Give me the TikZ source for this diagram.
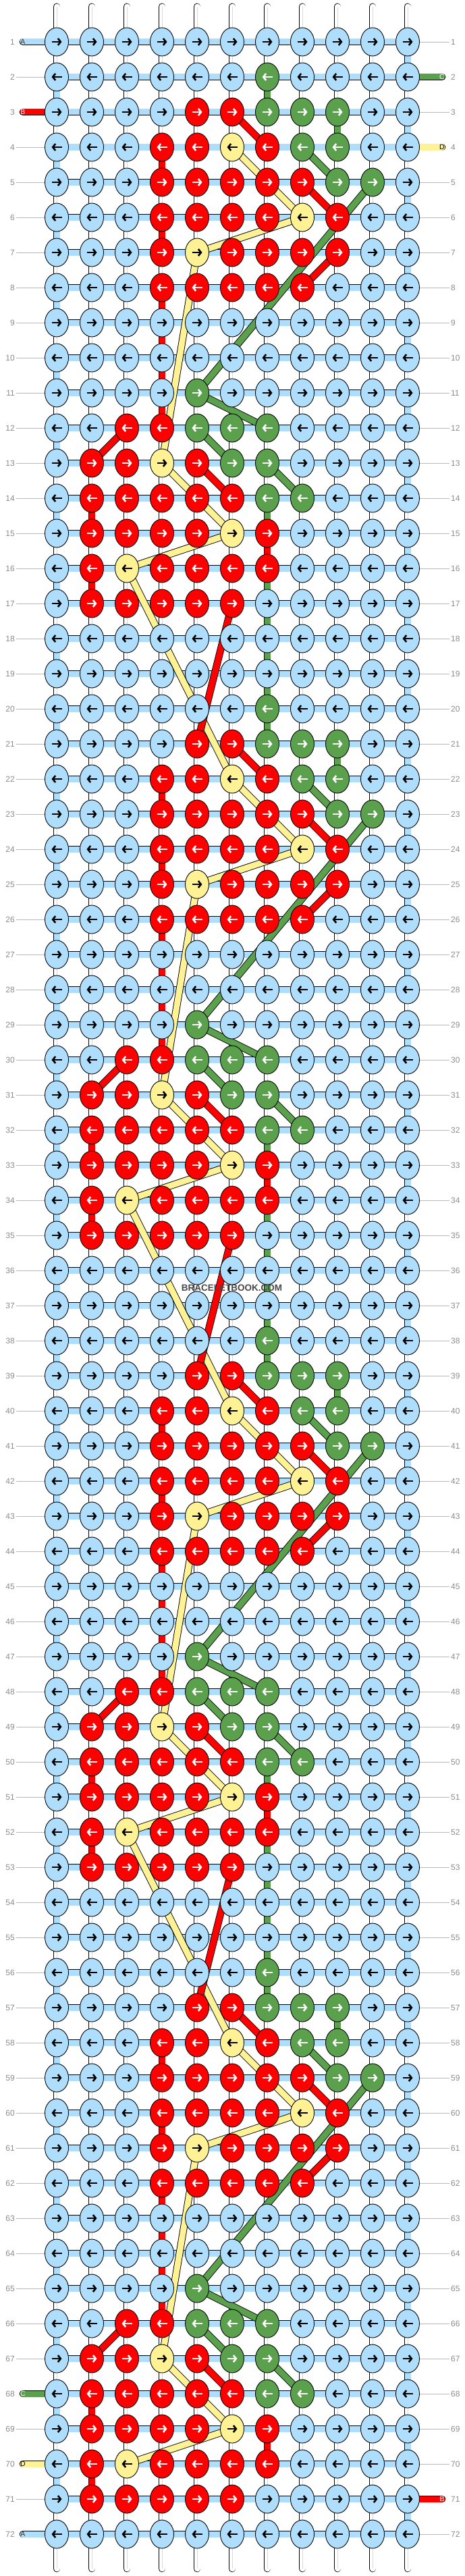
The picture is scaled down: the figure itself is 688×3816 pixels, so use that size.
\documentclass[tikz,border=0pt]{standalone}
\usepackage{fontspec}
\setmainfont{Liberation Sans}
\usetikzlibrary{shapes.geometric,arrows.meta}

\definecolor{cA}{HTML}{AEDEFB}
\definecolor{cB}{HTML}{FF0000}
\definecolor{cC}{HTML}{5BA04C}
\definecolor{cD}{HTML}{FFF294}
\colorlet{tip-a}{black}
\colorlet{tip-r}{white}
\colorlet{tip-g}{white}
\colorlet{tip-y}{black}

\pgfdeclarelayer{warp}
\pgfdeclarelayer{bars}
\pgfdeclarelayer{threads}
\pgfsetlayers{warp,bars,threads,main}

\begin{document}
\begin{tikzpicture}[x=1pt,y=-1pt,
    knot/.style={ellipse,draw,line width=0.9pt,minimum width=35pt,minimum height=42pt,inner sep=0pt},
    kn-a/.style={fill=cA}, kn-r/.style={fill=cB}, kn-g/.style={fill=cC}, kn-y/.style={fill=cD},
    tip/.style={line width=2.6pt,-{Straight Barb[length=4pt,width=10pt]}},
    strand/.style={draw=black,line width=0.9pt,double distance=9pt},
    warp/.style={strand,double=white,line cap=round},
    num/.style={font=\fontsize{12}{12}\selectfont,text=black!45,inner sep=2pt},
    guide/.style={draw=black!28,line width=0.8pt},
    endlab/.style={font=\fontsize{10.5}{10.5}\selectfont,inner sep=0pt},
    wmark/.style={font=\bfseries\fontsize{13.5}{13.5}\selectfont,text=black!72,inner sep=0pt},
    ]
    \useasboundingbox (0,0) rectangle (688,3816);

    \foreach \b in {0,...,3}{
        \foreach \cols [count=\r] in {
            {a,a,a,a,a,a,a,a,a,a,a},
            {a,a,a,a,a,a,g,a,a,a,a},
            {a,a,a,a,r,r,g,g,g,a,a},
            {a,a,a,r,r,y,r,g,g,a,a},
            {a,a,a,r,r,r,r,r,g,g,a},
            {a,a,a,r,r,r,r,y,r,a,a},
            {a,a,a,r,y,r,r,r,r,a,a},
            {a,a,a,r,r,r,r,r,a,a,a},
            {a,a,a,a,a,a,a,a,a,a,a},
            {a,a,a,a,a,a,a,a,a,a,a},
            {a,a,a,a,g,a,a,a,a,a,a},
            {a,a,r,r,g,g,g,a,a,a,a},
            {a,r,r,y,r,g,g,a,a,a,a},
            {a,r,r,r,r,r,g,g,a,a,a},
            {a,r,r,r,r,y,r,a,a,a,a},
            {a,r,y,r,r,r,r,a,a,a,a},
            {a,r,r,r,r,r,a,a,a,a,a},
            {a,a,a,a,a,a,a,a,a,a,a}}{
            \pgfmathtruncatemacro\R{18*\b+\r}
            \pgfmathsetmacro\Y{62+52*(\R-1)}
            \foreach \k [count=\c] in \cols {
                \pgfmathsetmacro\X{84+52*(\c-1)}
                \pgfmathsetmacro\xa{mod(\R,2)==1 ? \X-7.5 : \X+7.5}
                \pgfmathsetmacro\xb{mod(\R,2)==1 ? \X+7.5 : \X-7.5}
                \node [knot, kn-\k] (k-\R-\c) at (\X,\Y) {};
                \draw [tip, tip-\k] (\xa,\Y) -- (\xb,\Y);
            }
        }
    }

    \foreach \R in {1,...,72}{
        \pgfmathsetmacro\Y{62+52*(\R-1)}
        \node [num, anchor=east] (nl-\R) at (24,\Y) {\R};
        \node [num, anchor=west] (nr-\R) at (666,\Y) {\R};
        \pgfmathtruncatemacro\hasL{(\R==1)||(\R==3)||(\R==68)||(\R==70)||(\R==72)}
        \pgfmathtruncatemacro\hasR{(\R==2)||(\R==4)||(\R==71)}
        \ifnum\hasL=0 \draw [guide] (nl-\R.east) -- (k-\R-1.west); \fi
        \ifnum\hasR=0 \draw [guide] (k-\R-11.east) -- (nr-\R.west); \fi
        \begin{pgfonlayer}{bars}
            \draw [strand, double=cA] (k-\R-1.center) -- (k-\R-11.center);
        \end{pgfonlayer}
    }

    \foreach \R/\s/\t/\lab/\x/\c in {1/cA/black!80/A/34/1, 3/cB/white/B/34/1, 68/cC/white/C/34/1,
                                  70/cD/black/D/34/1, 72/cA/black!80/A/34/1,
                                  2/cC/white/C/655/11, 4/cD/black/D/655/11, 71/cB/white/B/655/11}{
        \coordinate (end-\R) at (\x,{62+52*(\R-1)});
        \begin{pgfonlayer}{bars}
            \draw [strand, double=\s, line cap=round] (end-\R) -- (k-\R-\c.center);
        \end{pgfonlayer}
        \node [endlab, text=\t] at (end-\R) {\lab};
    }

    \begin{pgfonlayer}{warp}
        \foreach \c in {1,...,11}{
            \coordinate (wt-\c) at ({84+52*(\c-1)},10);
            \coordinate (wb-\c) at ({84+52*(\c-1)},3805);
            \draw [warp] (wt-\c) -- (wb-\c);
            \draw [black!15, line width=0.8pt] (wt-\c) -- (wb-\c);
        }
    \end{pgfonlayer}

    \begin{pgfonlayer}{threads}
        \foreach \R in {1,...,71}{
            \pgfmathtruncatemacro\Rn{\R+1}
            \pgfmathtruncatemacro\E{mod(\R,2)==1 ? 11 : 1}
            \draw [strand, double=cA] (k-\R-\E.center) -- (k-\Rn-\E.center);
        }
        \foreach \s/\pairs in {
            cD/{4/6/6/8, 6/8/7/5, 7/5/13/4, 13/4/15/6, 15/6/16/3, 16/3/22/6},
            cC/{2/7/3/7, 3/9/4/9, 4/8/5/9, 5/10/11/5, 11/5/12/7, 12/5/13/6, 13/7/14/8, 14/7/20/7},
            cB/{3/6/4/7, 4/4/5/4, 5/8/6/9, 6/4/7/4, 7/9/8/8, 8/4/12/4, 12/3/13/2, 13/5/14/6,
                14/2/15/2, 15/7/16/7, 16/2/17/2, 17/6/21/5}}{
            \foreach \b in {0,...,3}{
                \foreach \ra/\ca/\rb/\cb in \pairs {
                    \pgfmathtruncatemacro\Ra{18*\b+\ra}
                    \pgfmathtruncatemacro\Rb{18*\b+\rb}
                    \ifnum\Rb<73 \draw [strand, double=\s] (k-\Ra-\ca.center) -- (k-\Rb-\cb.center); \fi
                }
            }
        }
    \end{pgfonlayer}

    \node [wmark] (wm) at (343.5,1907.5) {BRACELETBOOK.COM};
\end{tikzpicture}
\end{document}
